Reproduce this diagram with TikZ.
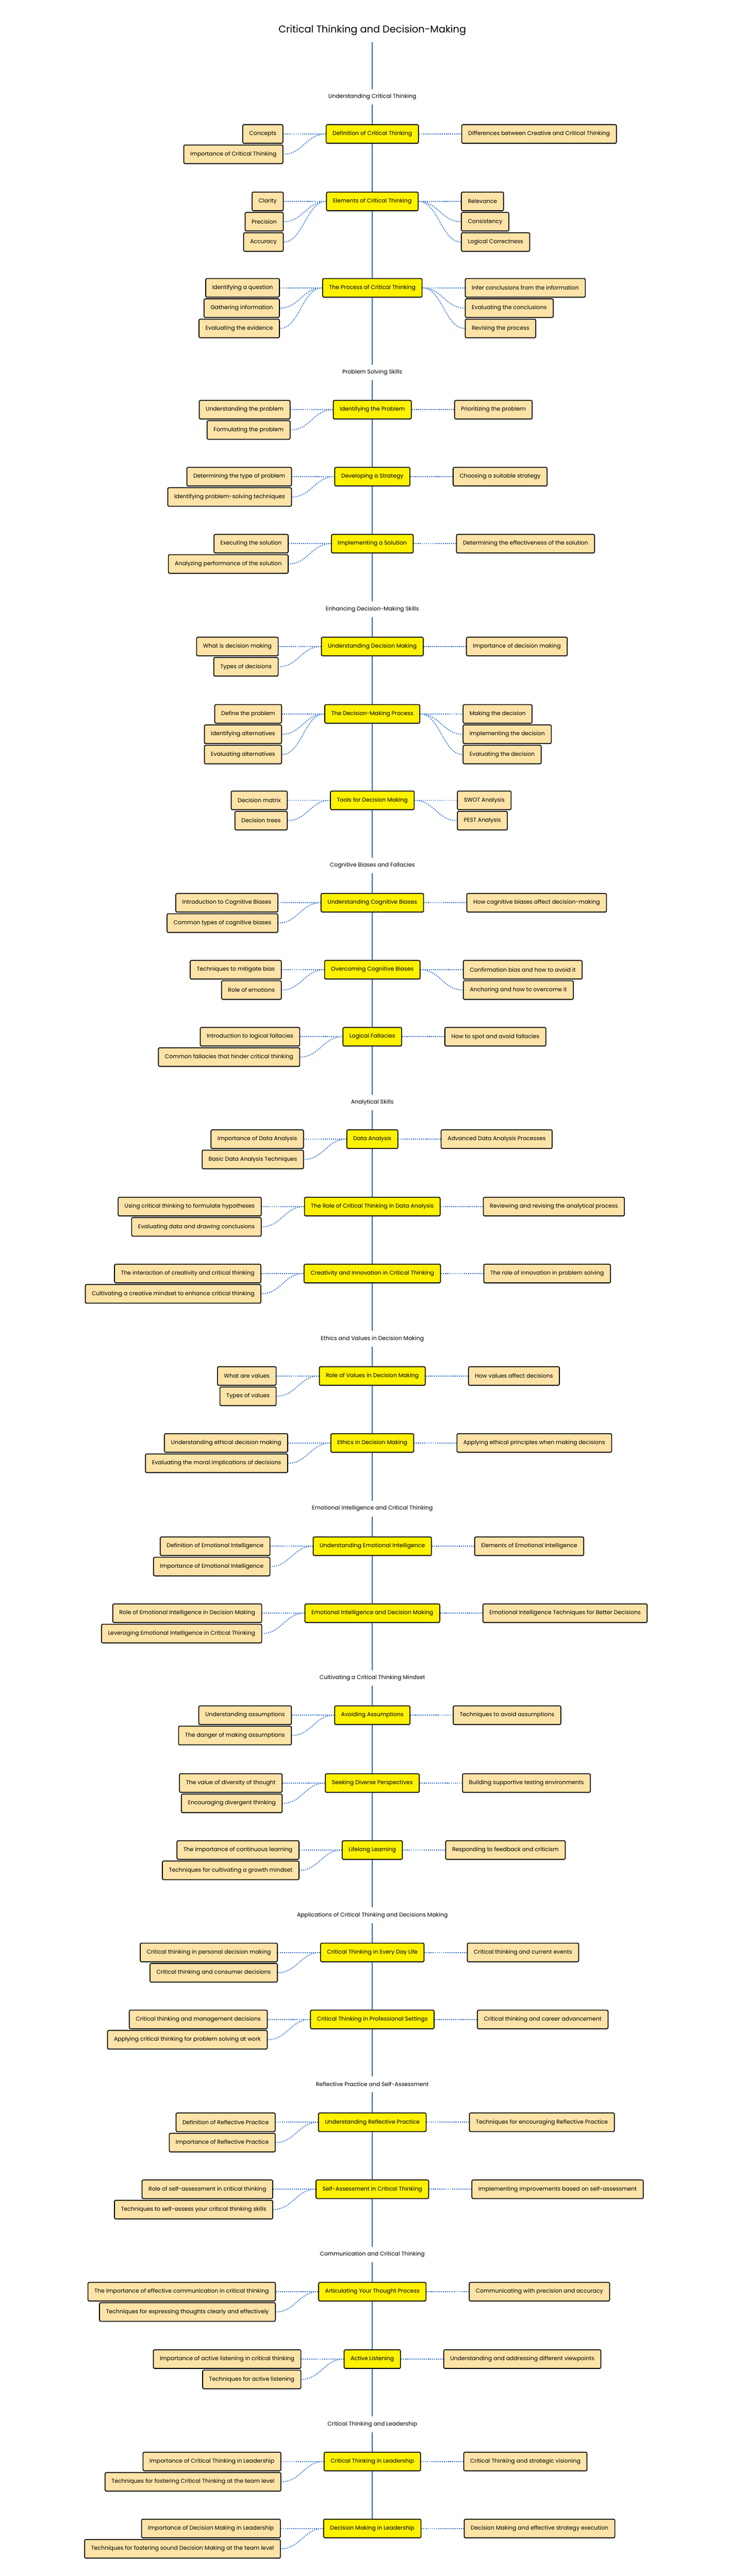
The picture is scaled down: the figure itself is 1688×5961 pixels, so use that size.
\documentclass[tikz,border=0pt]{standalone}
\usepackage{fontspec}
\setmainfont{Poppins}
\usetikzlibrary{calc,shadows}
\definecolor{spineblue}{HTML}{2C66B8}
\definecolor{connblue}{HTML}{2F6FCC}
\definecolor{childfill}{HTML}{FDE3A7}
\newcommand{\MainWithKids}[5]{%
  \node[mainbox] (#1) at (861,#2) {#3};
  \foreach \txt [count=\i] in {#4} {
    \node[childbox, anchor=east] (#1l\i) at ($(#1.west)+(-98,{47*(\i-1)})$) {\txt};
    \draw[conn] (#1.west) .. controls +(-45,0) and +(45,0) .. (#1l\i.east);
  }
  \foreach \txt [count=\i] in {#5} {
    \node[childbox, anchor=west] (#1r\i) at ($(#1.east)+(98,{47*(\i-1)})$) {\txt};
    \draw[conn] (#1.east) .. controls +(45,0) and +(-45,0) .. (#1r\i.west);
  }
}
\begin{document}
\begin{tikzpicture}[x=1pt,y=-1pt,
  every node/.style={font=\fontsize{13}{15}\selectfont},
  mainbox/.style={draw=black, line width=2pt, fill=yellow, rounded corners=3pt,
    minimum height=43pt, inner xsep=15pt, inner ysep=0pt,
    drop shadow={shadow xshift=0pt, shadow yshift=-2.5pt, opacity=0.25}},
  childbox/.style={mainbox, fill=childfill},
  conn/.style={connblue, line width=2.2pt, dash pattern=on 2.2pt off 2.6pt},
  spine/.style={spineblue, line width=2.2pt},
  seclabel/.style={minimum height=36pt, inner sep=0pt},
]
\useasboundingbox[fill=white] (0,0) rectangle (1688,5961);

\node[minimum height=56pt, inner sep=0pt, font=\fontsize{23}{27}\selectfont] (title) at (861,70) {Critical Thinking and Decision-Making};

% Section 1
\node[seclabel] (s1) at (861,224) {Understanding Critical Thinking};
\MainWithKids{a1}{310}{Definition of Critical Thinking}{Concepts, Importance of Critical Thinking}{Differences between Creative and Critical Thinking}
\MainWithKids{a2}{466}{Elements of Critical Thinking}{Clarity, Precision, Accuracy}{Relevance, Consistency, Logical Correctness}
\MainWithKids{a3}{666}{The Process of Critical Thinking}{Identifying a question, Gathering information, Evaluating the evidence}{Infer conclusions from the information, Evaluating the conclusions, Revising the process}

% Section 2
\node[seclabel] (s2) at (861,862) {Problem Solving Skills};
\MainWithKids{b1}{948}{Identifying the Problem}{Understanding the problem, Formulating the problem}{Prioritizing the problem}
\MainWithKids{b2}{1103}{Developing a Strategy}{Determining the type of problem, Identifying problem-solving techniques}{Choosing a suitable strategy}
\MainWithKids{b3}{1258}{Implementing a Solution}{Executing the solution, Analyzing performance of the solution}{Determining the effectiveness of the solution}

% Section 3
\node[seclabel] (s3) at (861,1410) {Enhancing Decision-Making Skills};
\MainWithKids{c1}{1496}{Understanding Decision Making}{What is decision making, Types of decisions}{Importance of decision making}
\MainWithKids{c2}{1652}{The Decision-Making Process}{Define the problem, Identifying alternatives, Evaluating alternatives}{Making the decision, Implementing the decision, Evaluating the decision}
\MainWithKids{c3}{1852}{Tools for Decision Making}{Decision matrix, Decision trees}{SWOT Analysis, PEST Analysis}

% Section 4
\node[seclabel] (s4) at (861,2003) {Cognitive Biases and Fallacies};
\MainWithKids{d1}{2089}{Understanding Cognitive Biases}{Introduction to Cognitive Biases, Common types of cognitive biases}{How cognitive biases affect decision-making}
\MainWithKids{d2}{2244}{Overcoming Cognitive Biases}{Techniques to mitigate bias, Role of emotions}{Confirmation bias and how to avoid it, Anchoring and how to overcome it}
\MainWithKids{d3}{2399}{Logical Fallacies}{Introduction to logical fallacies, Common fallacies that hinder critical thinking}{How to spot and avoid fallacies}

% Section 5
\node[seclabel] (s5) at (861,2551) {Analytical Skills};
\MainWithKids{e1}{2636}{Data Analysis}{Importance of Data Analysis, Basic Data Analysis Techniques}{Advanced Data Analysis Processes}
\MainWithKids{e2}{2792}{The Role of Critical Thinking in Data Analysis}{Using critical thinking to formulate hypotheses, Evaluating data and drawing conclusions}{Reviewing and revising the analytical process}
\MainWithKids{e3}{2947}{Creativity and Innovation in Critical Thinking}{The interaction of creativity and critical thinking, Cultivating a creative mindset to enhance critical thinking}{The role of innovation in problem solving}

% Section 6
\node[seclabel] (s6) at (861,3098) {Ethics and Values in Decision Making};
\MainWithKids{f1}{3184}{Role of Values in Decision Making}{What are values, Types of values}{How values affect decisions}
\MainWithKids{f2}{3339}{Ethics in Decision Making}{Understanding ethical decision making, Evaluating the moral implications of decisions}{Applying ethical principles when making decisions}

% Section 7
\node[seclabel] (s7) at (861,3491) {Emotional Intelligence and Critical Thinking};
\MainWithKids{g1}{3578}{Understanding Emotional Intelligence}{Definition of Emotional Intelligence, Importance of Emotional Intelligence}{Elements of Emotional Intelligence}
\MainWithKids{g2}{3733}{Emotional Intelligence and Decision Making}{Role of Emotional Intelligence in Decision Making, Leveraging Emotional Intelligence in Critical Thinking}{Emotional Intelligence Techniques for Better Decisions}

% Section 8
\node[seclabel] (s8) at (861,3883) {Cultivating a Critical Thinking Mindset};
\MainWithKids{h1}{3969}{Avoiding Assumptions}{Understanding assumptions, The danger of making assumptions}{Techniques to avoid assumptions}
\MainWithKids{h2}{4126}{Seeking Diverse Perspectives}{The value of diversity of thought, Encouraging divergent thinking}{Building supportive testing environments}
\MainWithKids{h3}{4281}{Lifelong Learning}{The importance of continuous learning, Techniques for cultivating a growth mindset}{Responding to feedback and criticism}

% Section 9
\node[seclabel] (s9) at (861,4432) {Applications of Critical Thinking and Decisions Making};
\MainWithKids{i1}{4518}{Critical Thinking in Every Day Life}{Critical thinking in personal decision making, Critical thinking and consumer decisions}{Critical thinking and current events}
\MainWithKids{i2}{4673}{Critical Thinking in Professional Settings}{Critical thinking and management decisions, Applying critical thinking for problem solving at work}{Critical thinking and career advancement}

% Section 10
\node[seclabel] (s10) at (861,4823) {Reflective Practice and Self-Assessment};
\MainWithKids{j1}{4911}{Understanding Reflective Practice}{Definition of Reflective Practice, Importance of Reflective Practice}{Techniques for encouraging Reflective Practice}
\MainWithKids{j2}{5066}{Self-Assessment in Critical Thinking}{Role of self-assessment in critical thinking, Techniques to self-assess your critical thinking skills}{Implementing improvements based on self-assessment}

% Section 11
\node[seclabel] (s11) at (861,5217) {Communication and Critical Thinking};
\MainWithKids{k1}{5303}{Articulating Your Thought Process}{The importance of effective communication in critical thinking, Techniques for expressing thoughts clearly and effectively}{Communicating with precision and accuracy}
\MainWithKids{k2}{5459}{Active Listening}{Importance of active listening in critical thinking, Techniques for active listening}{Understanding and addressing different viewpoints}

% Section 12
\node[seclabel] (s12) at (861,5610) {Critical Thinking and Leadership};
\MainWithKids{m1}{5696}{Critical Thinking in Leadership}{Importance of Critical Thinking in Leadership, Techniques for fostering Critical Thinking at the team level}{Critical Thinking and strategic visioning}
\MainWithKids{m2}{5851}{Decision Making in Leadership}{Importance of Decision Making in Leadership, Techniques for fostering sound Decision Making at the team level}{Decision Making and effective strategy execution}

\draw[spine] (title) -- (s1) -- (a1) -- (a2) -- (a3) -- (s2) -- (b1) -- (b2) -- (b3) -- (s3)
  -- (c1) -- (c2) -- (c3) -- (s4) -- (d1) -- (d2) -- (d3) -- (s5) -- (e1) -- (e2) -- (e3) -- (s6)
  -- (f1) -- (f2) -- (s7) -- (g1) -- (g2) -- (s8) -- (h1) -- (h2) -- (h3) -- (s9)
  -- (i1) -- (i2) -- (s10) -- (j1) -- (j2) -- (s11) -- (k1) -- (k2) -- (s12) -- (m1) -- (m2);
\end{tikzpicture}
\end{document}
